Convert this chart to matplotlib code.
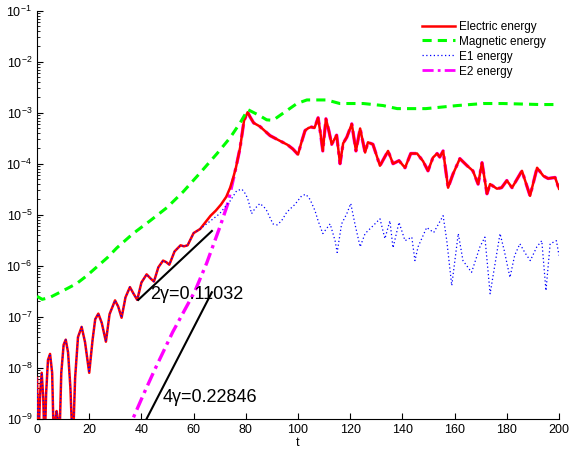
import numpy as np
import matplotlib
matplotlib.use("Agg")
from matplotlib import pyplot as plt
from matplotlib.ticker import LogLocator, NullFormatter

plt.rcParams['font.family'] = ['Liberation Sans', 'DejaVu Sans']

# magnetic energy (t, log10 value)
mag_t = [0, 2, 5, 10, 15.2, 19, 23, 27, 30.6, 36.8, 43.3, 49.8, 56, 62.5, 69, 74, 77.8, 80.8,
         85.4, 88, 90.4, 94, 99.6, 103.4, 111, 116, 125, 132.6, 138, 149, 161, 171, 178.5, 192.7, 200]
mag_log = [-6.6, -6.66, -6.62, -6.49, -6.35, -6.2, -6.02, -5.84, -5.65, -5.37, -5.12, -4.86, -4.55,
           -4.18, -3.80, -3.49, -3.20, -2.94, -3.06, -3.14, -3.15, -3.02, -2.82, -2.75, -2.75, -2.82,
           -2.82, -2.86, -2.92, -2.92, -2.86, -2.82, -2.82, -2.84, -2.84]

# electric energy (t, log10 value)
el_t = [0, 0.5, 1.2, 1.8, 2.4, 2.9, 3.5, 4.2, 5, 5.8, 6.5, 7.1, 7.5, 7.9, 8.5, 9.3, 10.2, 11, 11.9,
        12.8, 13.7, 14.6, 15.7, 17.1, 18.4, 20, 21.3, 22.3, 23.5, 24.8, 26.4, 27.8, 29.9, 31.1, 32.4,
        33.9, 35.6, 37, 38.4, 40, 42, 43.5, 44.8, 46.5, 48.3, 49.5, 50.7, 52.7, 55, 56.3, 57.7, 60,
        62.5, 64.5, 66.5, 68.5, 70.5, 72.5, 74, 75.2, 76.2, 77.8, 79.3, 80.7, 81.6, 83, 85.4, 89.3,
        93, 96, 98, 100, 101.2, 102.7, 104, 105.2, 106.3, 107.7, 108.6, 109.5, 110.7, 111.8, 112.9,
        114.8, 116.1, 117.3, 118.7, 120.6, 122.2, 123.8, 125.7, 126.8, 128.7, 131.4, 134.5, 136.4,
        138.7, 141, 143.2, 145.6, 147.9, 149.8, 151.7, 153.3, 154.3, 155.6, 157.5, 159.4, 162,
        164.8, 167, 169, 170.5, 172.4, 173.6, 176.2, 178, 180, 182, 185.8, 188.9, 191.6, 194,
        195.8, 198.5, 200]
el_log = [-8.2, -9.5, -8.5, -8.1, -8.6, -9.6, -8.5, -7.85, -7.73, -8.1, -9.6, -9.0, -8.85, -9.0,
          -9.6, -8.1, -7.55, -7.45, -7.7, -8.4, -9.6, -8.2, -7.4, -7.2, -7.5, -8.1, -7.45, -7.05,
          -6.94, -7.12, -7.49, -6.95, -6.68, -6.8, -7.02, -6.62, -6.42, -6.55, -6.67, -6.33, -6.17,
          -6.25, -6.31, -6.03, -5.9, -5.93, -5.98, -5.72, -5.6, -5.62, -5.6, -5.36, -5.28, -5.15,
          -5.02, -4.92, -4.8, -4.65, -4.47, -4.27, -4.08, -3.69, -3.16, -2.99, -3.08, -3.2, -3.27,
          -3.45, -3.55, -3.63, -3.71, -3.82, -3.6, -3.35, -3.3, -3.28, -3.3, -3.1, -3.4, -3.75,
          -3.12, -3.35, -3.62, -3.44, -4.0, -3.6, -3.48, -3.22, -3.75, -3.31, -3.78, -3.58, -3.62,
          -4.04, -3.75, -4.0, -3.94, -4.08, -3.8, -3.8, -3.95, -4.14, -3.88, -3.8, -3.87, -3.75,
          -4.47, -4.2, -3.9, -4.04, -4.14, -4.4, -3.98, -4.59, -4.4, -4.49, -4.47, -4.33, -4.47,
          -4.14, -4.63, -4.08, -4.24, -4.29, -4.27, -4.49]

# E1 energy after it leaves the electric curve
e1_t = [64.5, 67, 70, 72, 74, 76.5, 78.5, 80, 81, 82.2, 83.5, 85.4, 87, 88, 90.4, 92, 93.7, 95.7,
        98.8, 101.4, 103, 104.6, 106.5, 107.7, 109.5, 112.3, 114.2, 115, 116.7, 118.7, 120.2,
        121.8, 123.8, 125.7, 128.7, 131.4, 133.3, 135.2, 136.4, 138.7, 141, 143.6, 144.8, 146,
        149.3, 152, 155.6, 157, 158.9, 161.4, 163.2, 166.5, 169.7, 171.6, 173.6, 177.4, 179,
        181.2, 183, 185, 187, 189, 191.5, 193.4, 195, 196.6, 199, 200]
e1_log = [-5.2, -5.1, -4.98, -4.85, -4.73, -4.53, -4.5, -4.6, -4.73, -4.98, -4.88, -4.78, -4.85,
          -4.92, -5.18, -5.2, -5.12, -4.95, -4.8, -4.63, -4.6, -4.7, -4.92, -5.12, -5.37, -5.18,
          -5.51, -5.74, -5.18, -4.98, -4.78, -5.18, -5.63, -5.37, -5.22, -5.08, -5.47, -5.12,
          -5.65, -5.15, -5.51, -5.44, -5.9, -5.63, -5.25, -5.35, -5.02, -5.51, -6.39, -5.37, -5.9,
          -6.13, -5.63, -5.44, -6.55, -5.37, -5.7, -6.23, -5.8, -5.57, -5.75, -5.9, -5.63, -5.51,
          -6.49, -5.57, -5.51, -5.8]

# E2 energy before it joins the electric curve
e2_t = [34, 36.4, 41, 45, 52, 60.5, 65, 70, 73]
e2_log = [-9.3, -9.04, -8.5, -8.05, -7.3, -6.5, -5.95, -5.25, -4.8]

# exponential fits
fit_labels = ['2\u03b3=0.11032', '4\u03b3=0.22846']
fit_rate = [0.11032, 0.22846]
fit_t0 = [38.8, 41.0]
fit_t1 = [67.0, 67.0]
fit_log0 = [-6.67, -9.1]
text_t = [43.3, 48.3]
text_log = [-6.56, -8.58]

el_t = np.array(el_t)
el_val = 10.0 ** np.array(el_log)
mask_early = el_t <= 62.5
e1_all_t = np.concatenate([el_t[mask_early], e1_t])
e1_all = np.concatenate([el_val[mask_early], 10.0 ** np.array(e1_log)])
mask_late = el_t >= 76.2
e2_all_t = np.concatenate([e2_t, el_t[mask_late]])
e2_all = np.concatenate([10.0 ** np.array(e2_log), el_val[mask_late]])

fig = plt.figure(figsize=(5.72, 4.57), dpi=100)
ax = fig.add_axes([0.0647, 0.0838, 0.9126, 0.8928])

dashdot = (0, (4, 1.5, 1, 1.5))
ax.plot(e2_all_t, e2_all, color='#ff00ff', lw=2.4, ls=dashdot, zorder=2)
l_el, = ax.plot(el_t, el_val, color='#ff0000', lw=1.8, zorder=3, label='Electric energy',
                solid_joinstyle='round')
l_mag, = ax.plot(mag_t, 10.0 ** np.array(mag_log), color='#00ff00', lw=2.2,
                 ls=(0, (3, 2)), zorder=3, label='Magnetic energy')
l_e1, = ax.plot(e1_all_t, e1_all, color='#0000ff', lw=0.9, ls=(0, (1, 2)), zorder=4,
                label='E1 energy')
# legend proxy for E2
l_e2, = ax.plot([], [], color='#ff00ff', lw=2.0, ls=dashdot, label='E2 energy')

for i in range(2):
    tt = np.array([fit_t0[i], fit_t1[i]])
    yy = 10.0 ** fit_log0[i] * np.exp(fit_rate[i] * (tt - fit_t0[i]))
    ax.plot(tt, yy, color='black', lw=1.5, zorder=5)
    ax.text(text_t[i], 10.0 ** text_log[i], fit_labels[i], fontsize=13, va='center', ha='left',
            zorder=6)

ax.set_yscale('log')
ax.set_xlim(0, 200)
ax.set_ylim(1e-9, 1e-1)
ax.set_xticks(np.arange(0, 201, 20))
ax.yaxis.set_major_locator(LogLocator(base=10, numticks=20))
ax.yaxis.set_minor_locator(LogLocator(base=10, subs=np.arange(2, 10), numticks=20))
ax.yaxis.set_minor_formatter(NullFormatter())
ax.tick_params(axis='both', direction='in', labelsize=9, length=4, width=0.8)
ax.tick_params(axis='y', which='minor', direction='in', length=2, width=0.6)
ax.spines['top'].set_visible(False)
ax.spines['right'].set_visible(False)
ax.xaxis.get_offset_text().set_visible(False)
ax.yaxis.get_offset_text().set_visible(False)
ax.set_xlabel('t', fontsize=9, labelpad=1)

ax.legend(handles=[l_el, l_mag, l_e1, l_e2], loc='upper left', bbox_to_anchor=(0.727, 0.99),
          frameon=False, fontsize=8.5, handlelength=2.8, handletextpad=0.3, labelspacing=0.25,
          borderpad=0)

fig.savefig('out.png', dpi=100)
